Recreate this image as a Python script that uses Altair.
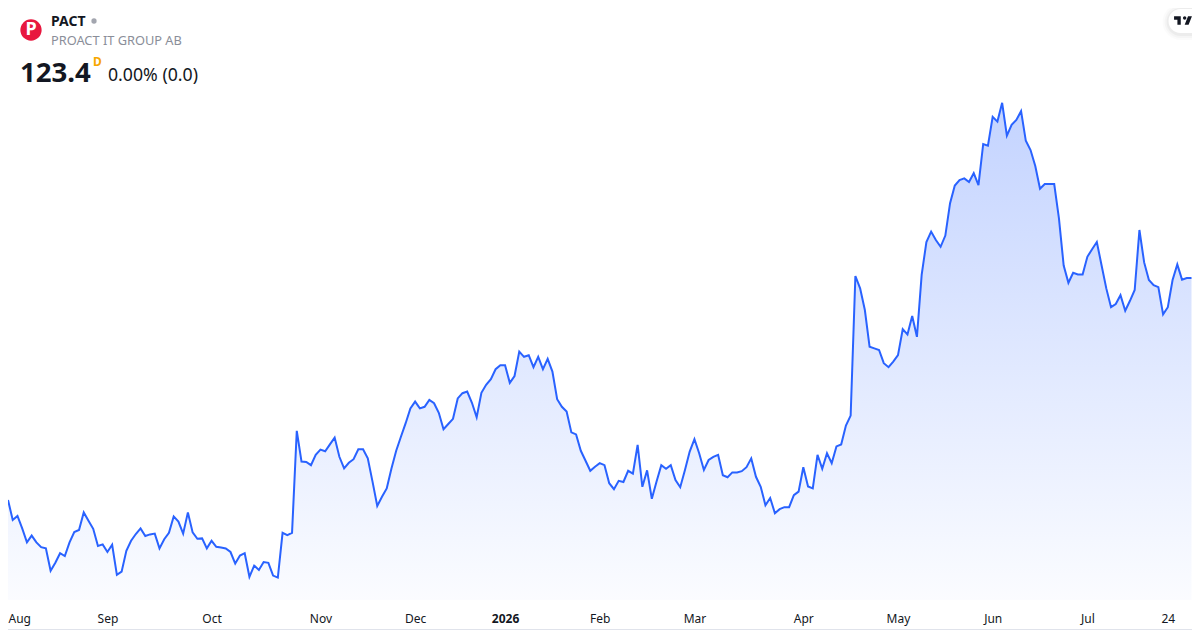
import altair as alt
import pandas as pd

ticker = "PACT"
company = "PROACT IT GROUP AB"
last_price = "123.4"
price_change = "0.00% (0.0)"
period_tag = "D"

closes_a = [67.9, 62.9, 63.9, 60.8, 57.3, 59.0, 57.3, 56.1, 55.8, 50.2, 52.2, 54.6, 53.9, 57.3, 59.9, 60.4,
            64.8, 62.7, 60.7, 56.4, 56.8, 54.9, 56.7, 49.2, 50.0, 55.2, 57.7, 59.4, 60.8, 58.9, 59.3, 59.5,
            55.8, 58.1, 59.7, 63.8, 62.5, 59.5, 64.8, 59.8, 58.2, 58.3, 55.8, 57.7, 56.2, 56.0, 55.8, 54.9,
            52.0, 54.0, 54.6, 48.7, 51.5, 50.4, 52.4, 52.2, 49.0, 48.5, 59.7, 59.1, 59.7]
closes_b = [85.2, 77.5, 77.4, 76.6, 79.2, 80.5, 80.1, 81.8, 83.5, 78.7, 75.8, 77.2, 78.1, 80.6, 80.6, 78.3,
            72.5, 66.4, 68.7, 70.8, 75.8, 80.2, 83.7, 87.1, 90.8, 92.5, 90.8, 91.2, 92.9, 92.1, 89.7, 85.6,
            86.9, 88.2, 93.3, 94.6, 95.0, 92.2, 88.6, 94.7, 96.7, 98.1, 100.6, 101.6, 101.6, 97.2, 98.9,
            105.0, 103.7, 104.1, 101.1, 103.7, 100.6, 103.2, 100.0, 93.1, 91.2, 90.0, 84.8, 84.3, 80.2,
            77.7]
closes_c = [75.2, 76.2, 77.1, 76.6, 72.1, 70.6, 72.7, 72.4, 75.2, 74.5, 81.7, 71.2, 75.3, 68.2, 72.5, 76.6,
            75.7, 76.6, 72.9, 71.1, 75.4, 80.0, 83.1, 79.6, 75.4, 77.9, 78.7, 79.2, 74.1, 73.6, 74.8, 74.8,
            75.1, 76.1, 78.3, 73.7, 71.2, 66.6, 68.4, 64.6, 65.6, 66.1, 66.1, 69.1, 70.0, 76.1, 71.3, 70.8,
            79.2, 75.7, 79.6, 77.1, 81.3, 81.8, 86.5, 89.0]
closes_d = [123.9, 120.8, 115.4, 106.2, 105.8, 105.4, 102.1, 101.1, 102.5, 104.1, 110.6, 109.3, 113.9, 108.7,
            124.2, 132.4, 135.0, 132.9, 131.2, 134.0, 142.1, 146.5, 147.9, 148.3, 147.4, 149.6, 146.6, 156.9,
            156.5, 163.7, 162.5, 167.2, 159.0, 161.7, 162.9, 165.1, 157.7, 155.4, 151.4, 145.7, 146.9, 146.9,
            146.9, 138.3, 126.5, 122.2, 124.7, 124.3, 124.3, 128.7, 130.6, 132.4, 126.6, 120.8, 116.1, 116.9,
            119.1, 115.2, 117.7, 120.4, 135.4, 127.3, 122.9, 121.6, 121.1, 114.3, 116.1, 122.9, 126.8, 123.0,
            123.4, 123.4]
closes = closes_a + closes_b + closes_c + closes_d

tick_pos = [0, 21, 43, 66, 86, 105, 125, 145, 168, 188, 208, 228, 245]
tick_labels = ["Aug", "Sep", "Oct", "Nov", "Dec", "2026", "Feb", "Mar", "Apr", "May", "Jun", "Jul", "24"]
bold_tick = 105

FONT = "Noto Sans"
OFF = 8  # page margin
BASE = 42.9

df = pd.DataFrame({"day": list(range(len(closes))), "close": closes})
x_scale = alt.Scale(domain=[0, len(closes) - 1], range=[0, 1183.5])
y_scale = alt.Scale(domain=[35.4, 190.9], nice=False, zero=False)

label_expr = "%s[indexof(%s, datum.value)]" % (tick_labels, tick_pos)
x_enc = alt.X(
    "day:Q", scale=x_scale, title=None,
    axis=alt.Axis(values=tick_pos, labelExpr=label_expr, domain=False, ticks=False, grid=False,
                  labelFlush=1, labelOverlap=False, labelFont=FONT, labelFontSize=12,
                  labelColor="#131722", labelBaseline="alphabetic", labelPadding=0, offset=-8,
                  labelFontWeight=alt.expr("datum.value == %d ? 'bold' : 'normal'" % bold_tick)),
)
y_enc = alt.Y("close:Q", scale=y_scale, axis=None, title=None)

area = alt.Chart(df).transform_calculate(base=str(BASE)).mark_area(
    color=alt.Gradient(
        gradient="linear", x1=0, x2=0, y1=0, y2=1,
        stops=[alt.GradientStop(color="rgba(41,98,255,0.28)", offset=0),
               alt.GradientStop(color="rgba(41,98,255,0.02)", offset=1)],
    ),
    interpolate="linear",
).encode(x=x_enc, y=y_enc, y2=alt.Y2("base:Q"))

line = alt.Chart(df).mark_line(color="#2962FF", strokeWidth=2, interpolate="linear").encode(x=x_enc, y=y_enc)


def one(text):
    return alt.Chart(pd.DataFrame({"t": [text]}))


def label(text, x, y, size, color, weight="normal"):
    return one(text).mark_text(align="left", baseline="alphabetic", font=FONT, fontSize=size,
                               color=color, fontWeight=weight).encode(
        x=alt.value(x - OFF), y=alt.value(y - OFF), text="t:N")


def dot(x, y, size, color):
    return one("").mark_circle(size=size, color=color, opacity=1).encode(x=alt.value(x - OFF), y=alt.value(y - OFF))


logo = dot(31, 30, 452, "#E8173F")
logo_p = one("P").mark_text(align="center", baseline="middle", font=FONT, fontSize=18, fontWeight="bold",
                            color="white").encode(x=alt.value(31 - OFF), y=alt.value(30 - OFF), text="t:N")
status = dot(94, 21, 28, "#A3A6AF")

name = label(ticker, 51, 26, 14, "#131722", "bold")
full = label(company, 51, 45, 12.8, "#8A8E99")
price = label(last_price, 20, 82, 27.6, "#131722", "bold")
tag = label(period_tag, 93, 66, 12, "#F7A600", "bold")
change = label(price_change, 108, 81, 17.7, "#131722")

bottom_edge = one("").mark_rule(color="#E0E3EB", strokeWidth=1).encode(
    x=alt.value(0), x2=alt.value(1184), y=alt.value(629.5 - OFF))

PILL_L = 1168.5
shadows = []
for grow, op in [(6, 0.015), (4, 0.025), (2, 0.035)]:
    shadows.append(one("").mark_rect(cornerRadius=12 + grow, color="black", opacity=op).encode(
        x=alt.value(PILL_L - OFF - grow), x2=alt.value(1240), y=alt.value(9 - OFF - grow + 1),
        y2=alt.value(33 - OFF + grow + 1)))
pill = one("").mark_rect(cornerRadius=12, color="white", opacity=1).encode(
    x=alt.value(PILL_L - OFF), x2=alt.value(1240), y=alt.value(9 - OFF), y2=alt.value(33 - OFF))
tv_path = ("M-4 -7.5H-16v6h6v9h6V-7.5zm14 15h-7l6 -15h7l-6 15zm-7 -9a3 3 0 1 0 0 -6 3 3 0 0 0 0 6z")
tv = one("").mark_point(shape=tv_path, filled=True, size=1.25, color="#131722", opacity=1, strokeWidth=0).encode(
    x=alt.value(1183 - OFF), y=alt.value(20.5 - OFF))

chart = alt.layer(area, line, bottom_edge, logo, logo_p, status, name, full, price, tag, change,
                  *shadows, pill, tv).properties(
    width=1184, height=622, padding=0, autosize="none", background="white",
).configure_view(stroke=None)

chart.save("out.html", embed_options={"renderer": "svg", "actions": False})
